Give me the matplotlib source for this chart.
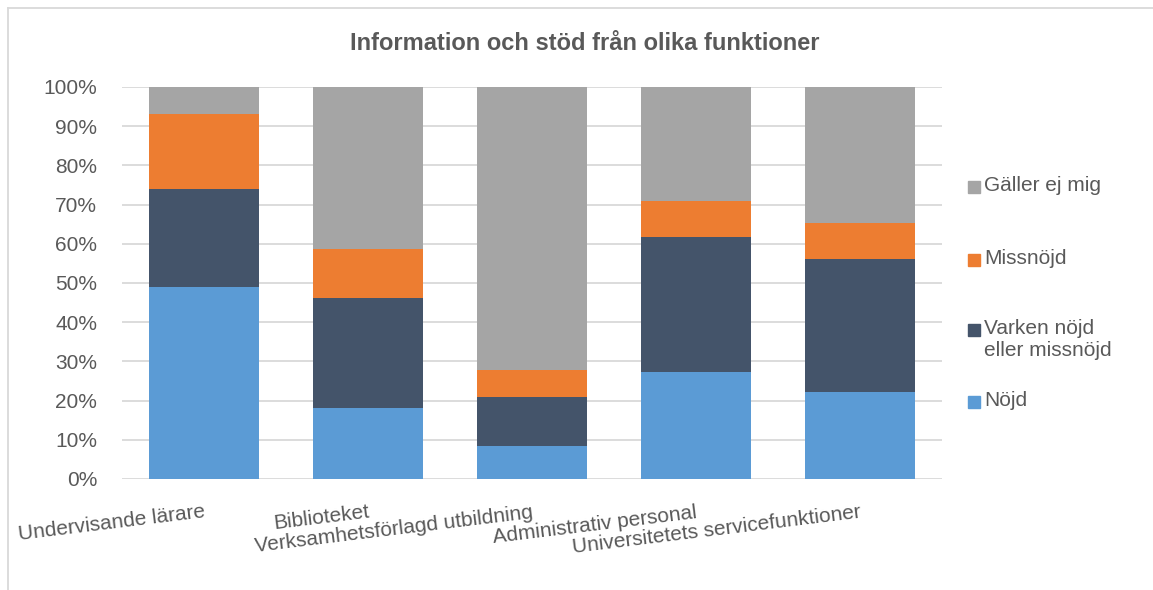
import numpy as np
import matplotlib.pyplot as plt
from matplotlib.lines import Line2D
from matplotlib.patches import Rectangle

plt.rcParams['font.family'] = ['Liberation Sans', 'DejaVu Sans']

kategorier = ["Undervisande lärare", "Biblioteket", "Verksamhetsförlagd utbildning",
              "Administrativ personal", "Universitetets servicefunktioner"]
nojd = [49.1, 18.1, 8.5, 27.2, 22.2]
varken = [25.0, 28.2, 12.4, 34.6, 34.0]
missnojd = [19.0, 12.3, 6.9, 9.1, 9.1]
galler_ej = [6.9, 41.4, 72.2, 29.1, 34.7]

serier = ["Nöjd", "Varken nöjd\neller missnöjd", "Missnöjd", "Gäller ej mig"]
farger = ["#5B9BD5", "#44546A", "#ED7D31", "#A5A5A5"]
textfarg = "#595959"

W, H = 1153, 590
fig = plt.figure(figsize=(W/100, H/100), dpi=100)
ax = fig.add_axes([122/W, 1 - 479/H, (942 - 122)/W, (479 - 87)/H])

x = np.arange(len(kategorier))
botten = np.zeros(len(kategorier))
for namn, vals, f in zip(serier, [nojd, varken, missnojd, galler_ej], farger):
    ax.bar(x, vals, bottom=botten, width=0.67, color=f, zorder=3)
    botten += np.array(vals)

ax.set_xlim(-0.5, len(kategorier) - 0.5)
ax.set_ylim(0, 100)
ax.set_yticks(np.arange(0, 101, 10))
ax.set_yticklabels([f"{v}%" for v in range(0, 101, 10)], fontsize=15, color=textfarg)
ax.set_xticks(x)
ax.set_xticklabels(kategorier, rotation=7, ha='right', va='top', rotation_mode='anchor',
                   fontsize=15, color=textfarg)
ax.tick_params(axis='both', length=0)
ax.tick_params(axis='y', pad=18)
ax.tick_params(axis='x', pad=17)
for s in ax.spines.values():
    s.set_visible(False)
ax.grid(axis='y', color='#d9d9d9', linewidth=1.3, zorder=0)

fig.text(585/W, 1 - 44/H, "Information och stöd från olika funktioner", ha='center', va='center',
         fontsize=17, fontweight='bold', color=textfarg)

# legend, drawn by hand to follow the Excel spacing
leg_y = [402, 330, 260, 187]
for namn, f, yy in zip(serier, farger, leg_y):
    fig.patches.append(Rectangle((968/W, 1 - (yy + 6)/H), 12/W, 12/H, color=f,
                                 transform=fig.transFigure))
    fig.text(984/W, 1 - (yy - 11)/H, namn, ha='left', va='top', fontsize=15,
             color=textfarg, linespacing=1.2)

# chart area border
fig.lines.append(Line2D([8/W, 1], [1 - 8/H, 1 - 8/H], color='#d9d9d9', linewidth=1.3,
                        transform=fig.transFigure))
fig.lines.append(Line2D([8/W, 8/W], [0, 1 - 8/H], color='#d9d9d9', linewidth=1.3,
                        transform=fig.transFigure))

fig.savefig("out.png", dpi=100)
